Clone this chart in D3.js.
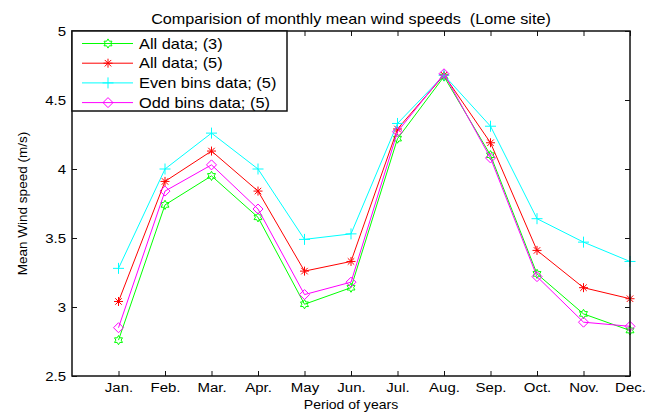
<!DOCTYPE html>
<html>
<head>
<meta charset="utf-8">
<script src="https://cdn.jsdelivr.net/npm/d3@7"></script>
<style>
  html, body { margin: 0; padding: 0; background: #fff; }
  svg { display: block; }
  text { font-family: "Liberation Sans", Arial, Helvetica, sans-serif; fill: #000; }
</style>
</head>
<body>
<svg id="chart" width="658" height="413"></svg>
<script>
// Monthly mean wind speeds at the Lome site (m/s)
const months = ["Jan.", "Feb.", "Mar.", "Apr.", "May", "Jun.", "Jul.", "Aug.", "Sep.", "Oct.", "Nov.", "Dec."];
const allData3 = [2.76, 3.74, 3.95, 3.65, 3.02, 3.14, 4.22, 4.67, 4.10, 3.24, 2.95, 2.83];
const allData5 = [3.04, 3.91, 4.13, 3.84, 3.26, 3.33, 4.29, 4.68, 4.19, 3.41, 3.14, 3.06];
const evenBins5 = [3.28, 4.00, 4.26, 4.00, 3.49, 3.53, 4.33, 4.68, 4.31, 3.64, 3.47, 3.33];
const oddBins5 = [2.85, 3.84, 4.03, 3.71, 3.09, 3.18, 4.27, 4.69, 4.08, 3.22, 2.89, 2.86];
const seriesNames = ["All data; (3)", "All data; (5)", "Even bins data; (5)", "Odd bins data; (5)"];
const yTicks = [2.5, 3, 3.5, 4, 4.5, 5];

const series = [
  { name: seriesNames[0], values: allData3, color: "#00ff00", marker: "hexagram" },
  { name: seriesNames[1], values: allData5, color: "#ff0000", marker: "asterisk" },
  { name: seriesNames[2], values: evenBins5, color: "#00ffff", marker: "plus" },
  { name: seriesNames[3], values: oddBins5, color: "#ff00ff", marker: "diamond" }
];

const svg = d3.select("#chart");
const plotLeft = 72, plotRight = 630, plotTop = 31, plotBottom = 376;

const x = d3.scaleLinear().domain([0, 12]).range([plotLeft, plotRight]);
const y = d3.scaleLinear().domain([2.5, 5]).range([plotBottom, plotTop]);

// marker shapes, centred at origin
function markerPath(type) {
  const p = d3.path();
  if (type === "hexagram") {
    const ro = 4.6, ri = ro / Math.sqrt(3);
    for (let i = 0; i < 12; i++) {
      const a = -Math.PI / 2 + i * Math.PI / 6;
      const r = i % 2 === 0 ? ro : ri;
      const px = r * Math.cos(a), py = r * Math.sin(a);
      if (i === 0) p.moveTo(px, py); else p.lineTo(px, py);
    }
    p.closePath();
  } else if (type === "asterisk") {
    const r = 4.5, d = r * 0.72;
    p.moveTo(-r, 0); p.lineTo(r, 0);
    p.moveTo(0, -r); p.lineTo(0, r);
    p.moveTo(-d, -d); p.lineTo(d, d);
    p.moveTo(-d, d); p.lineTo(d, -d);
  } else if (type === "plus") {
    const r = 5.5;
    p.moveTo(-r, 0); p.lineTo(r, 0);
    p.moveTo(0, -r); p.lineTo(0, r);
  } else if (type === "diamond") {
    const r = 5;
    p.moveTo(0, -r); p.lineTo(r, 0); p.lineTo(0, r); p.lineTo(-r, 0); p.closePath();
  }
  return p.toString();
}

// plot lines and markers
const line = d3.line().x((d, i) => x(i + 1)).y(d => y(d));
const plot = svg.append("g");
series.forEach(s => {
  plot.append("path")
    .attr("d", line(s.values))
    .attr("fill", "none")
    .attr("stroke", s.color)
    .attr("stroke-width", 1);
  plot.selectAll(null)
    .data(s.values)
    .enter().append("path")
    .attr("transform", (d, i) => `translate(${x(i + 1)},${y(d)})`)
    .attr("d", markerPath(s.marker))
    .attr("fill", "none")
    .attr("stroke", s.color)
    .attr("stroke-width", 1);
});

// axes: bottom/left with labels, top/right with inward ticks only
const monthTicks = d3.range(1, 13);
const tickLen = 5;
const sxTick = 1.25;

const xAxis = d3.axisBottom(x).tickValues(monthTicks).tickSizeInner(-tickLen).tickSizeOuter(0)
  .tickFormat(d => months[d - 1]);
const gx = svg.append("g").attr("transform", `translate(0,${plotBottom})`).call(xAxis);
const xAxisTop = d3.axisTop(x).tickValues(monthTicks).tickSizeInner(-tickLen).tickSizeOuter(0).tickFormat("");
const gxt = svg.append("g").attr("transform", `translate(0,${plotTop})`).call(xAxisTop);

const yAxis = d3.axisLeft(y).tickValues(yTicks).tickSizeInner(-tickLen).tickSizeOuter(0)
  .tickFormat(d3.format(""));
const gy = svg.append("g").attr("transform", `translate(${plotLeft},0)`).call(yAxis);
const yAxisRight = d3.axisRight(y).tickValues(yTicks).tickSizeInner(-tickLen).tickSizeOuter(0).tickFormat("");
const gyr = svg.append("g").attr("transform", `translate(${plotRight},0)`).call(yAxisRight);

[gx, gxt, gy, gyr].forEach(g => {
  g.select(".domain").remove();
  g.selectAll(".tick line").attr("stroke", "#111").attr("stroke-width", 1);
});

gx.selectAll(".tick text")
  .attr("font-size", 12)
  .attr("y", null).attr("dy", null)
  .attr("transform", `translate(0,16) scale(${sxTick},1)`);

gy.selectAll(".tick text")
  .attr("font-size", 12)
  .attr("x", null).attr("dy", "0.36em")
  .attr("text-anchor", "end")
  .attr("transform", `translate(-6,0) scale(${sxTick},1)`);

// frame
svg.append("rect")
  .attr("x", plotLeft).attr("y", plotTop)
  .attr("width", plotRight - plotLeft).attr("height", plotBottom - plotTop)
  .attr("fill", "none").attr("stroke", "#111").attr("stroke-width", 1.5);

// title and axis labels
svg.append("text")
  .attr("transform", `translate(${(plotLeft + plotRight) / 2},24) scale(1.08,1)`)
  .attr("text-anchor", "middle").attr("font-size", 15)
  .style("white-space", "pre")
  .text("Comparision of monthly mean wind speeds  (Lome site)");

svg.append("text")
  .attr("transform", `translate(${(plotLeft + plotRight) / 2},409) scale(1.08,1)`)
  .attr("text-anchor", "middle").attr("font-size", 13)
  .text("Period of years");

svg.append("text")
  .attr("transform", `translate(27,${(plotTop + plotBottom) / 2}) rotate(-90)`)
  .attr("text-anchor", "middle").attr("font-size", 13.5)
  .text("Mean Wind speed (m/s)");

// legend
const legend = svg.append("g");
legend.append("rect")
  .attr("x", plotLeft).attr("y", plotTop)
  .attr("width", 215).attr("height", 80)
  .attr("fill", "#fff").attr("stroke", "#111").attr("stroke-width", 1.5);

series.forEach((s, i) => {
  const ry = 43.5 + i * 19.7;
  legend.append("line")
    .attr("x1", 82).attr("x2", 133).attr("y1", ry).attr("y2", ry)
    .attr("stroke", s.color).attr("stroke-width", 1);
  legend.append("path")
    .attr("transform", `translate(108,${ry})`)
    .attr("d", markerPath(s.marker))
    .attr("fill", "none").attr("stroke", s.color).attr("stroke-width", 1);
  legend.append("text")
    .attr("transform", `translate(139,${ry + 5}) scale(1.17,1)`)
    .attr("font-size", 14)
    .text(s.name);
});
</script>
</body>
</html>
